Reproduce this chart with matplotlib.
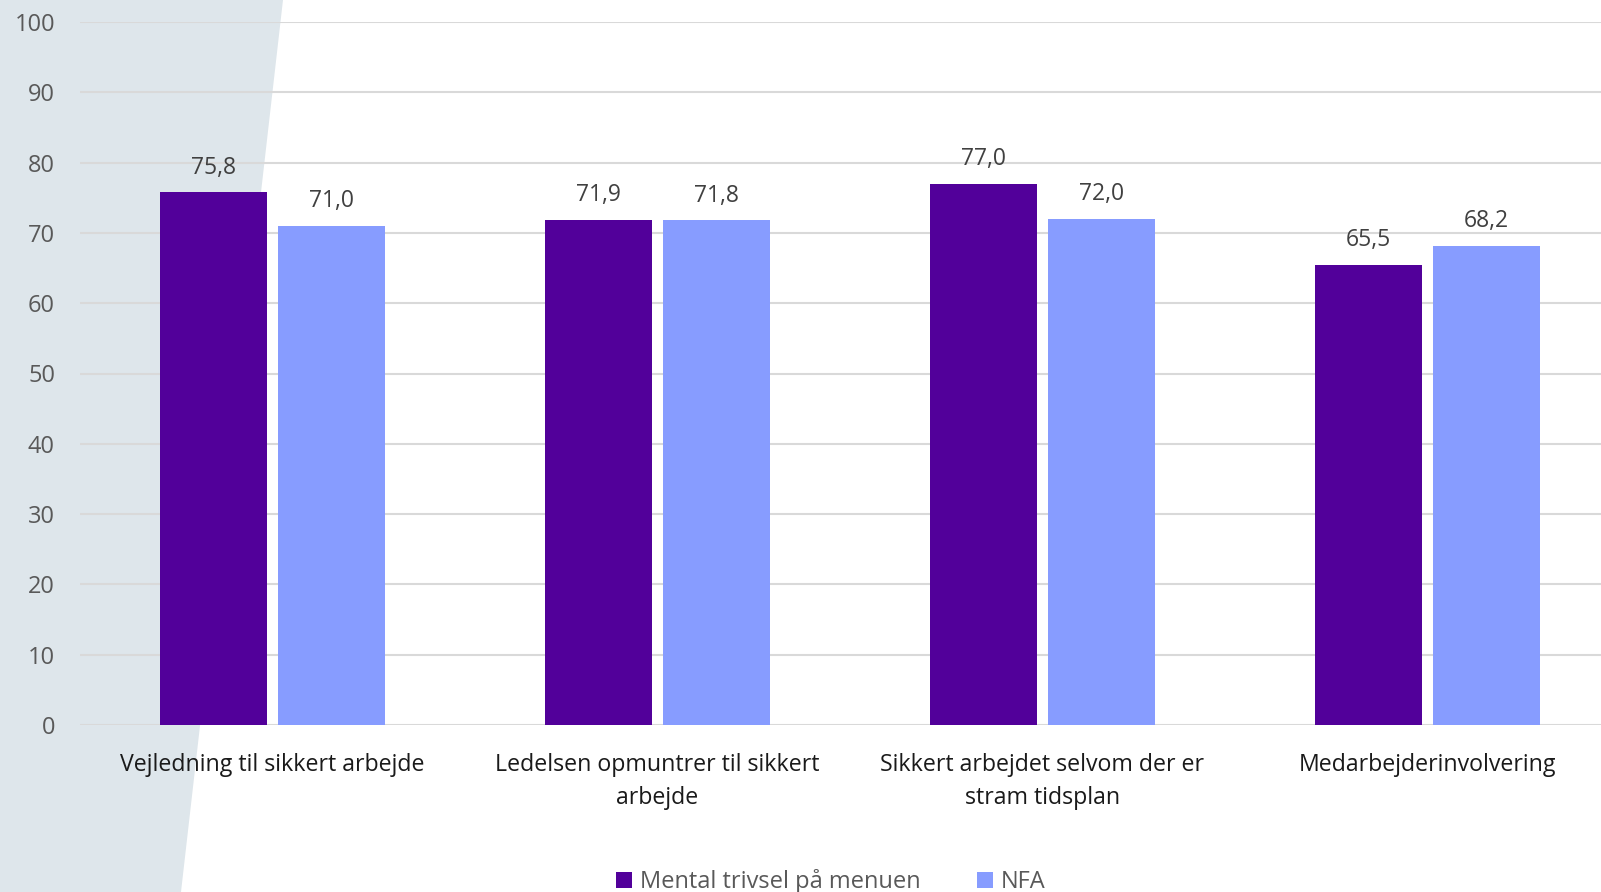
import matplotlib
matplotlib.use("Agg")
import matplotlib.pyplot as plt
from matplotlib.patches import Polygon
import numpy as np

categories = [
    "Vejledning til sikkert arbejde",
    "Ledelsen opmuntrer til sikkert\narbejde",
    "Sikkert arbejdet selvom der er\nstram tidsplan",
    "Medarbejderinvolvering",
]
series_names = ["Mental trivsel på menuen", "NFA"]
mental = [75.8, 71.9, 77.0, 65.5]
nfa = [71.0, 71.8, 72.0, 68.2]
yticks = [0, 10, 20, 30, 40, 50, 60, 70, 80, 90, 100]

purple = "#52009A"
blue = "#879CFF"
grid_c = "#D9D9D9"
tick_c = "#595959"

plt.rcParams["font.family"] = ["Open Sans", "DejaVu Sans"]

W, H = 1601, 892
fig = plt.figure(figsize=(W / 100, H / 100), dpi=100)
fig.patch.set_facecolor("white")

# slanted pale panel on the left, behind everything
fig.patches.append(Polygon([(0, 0), (181 / W, 0), (283 / W, 1), (0, 1)],
                           closed=True, transform=fig.transFigure,
                           facecolor="#DEE6EB", edgecolor="none", zorder=-5))

left, right = 80 / W, 1.0
bottom, top = 1 - 725 / H, 1 - 22 / H
ax = fig.add_axes([left, bottom, right - left, top - bottom])
ax.set_facecolor("none")
ax.set_zorder(1)

span = (W - 80) / 385.0
ax.set_xlim(-0.5, -0.5 + span)
ax.set_ylim(0, 100)

x = np.arange(len(categories))
bw = 0.278
off = 0.153
b1 = ax.bar(x - off, mental, bw, color=purple, zorder=3, label=series_names[0])
b2 = ax.bar(x + off, nfa, bw, color=blue, zorder=3, label=series_names[1])

for bars, vals in ((b1, mental), (b2, nfa)):
    for rect, v in zip(bars, vals):
        ax.annotate(f"{v:.1f}".replace(".", ","),
                    (rect.get_x() + rect.get_width() / 2, v),
                    xytext=(0, 9), textcoords="offset points",
                    ha="center", va="bottom", fontsize=16.5, color="#404040",
                    zorder=4)

ax.set_yticks(yticks)
ax.set_yticklabels([str(t) for t in yticks], fontsize=17, color=tick_c)
ax.yaxis.grid(True, color=grid_c, linewidth=1.5, zorder=0)
ax.tick_params(axis="y", length=0, pad=18)
ax.tick_params(axis="x", length=0, pad=20)
ax.set_xticks(x)
ax.set_xticklabels(categories, fontsize=16.7, color="#1A1A1A", linespacing=1.5)
for s in ax.spines.values():
    s.set_visible(False)

leg = fig.legend(handles=[b1, b2], labels=series_names, loc="center",
                 bbox_to_anchor=(831 / W, 1 - 882 / H), ncol=2, frameon=False,
                 fontsize=17, handlelength=0.65, handleheight=0.65,
                 handletextpad=0.35, columnspacing=2.4)
for t in leg.get_texts():
    t.set_color(tick_c)

fig.savefig("out.png", dpi=100, facecolor="white")
